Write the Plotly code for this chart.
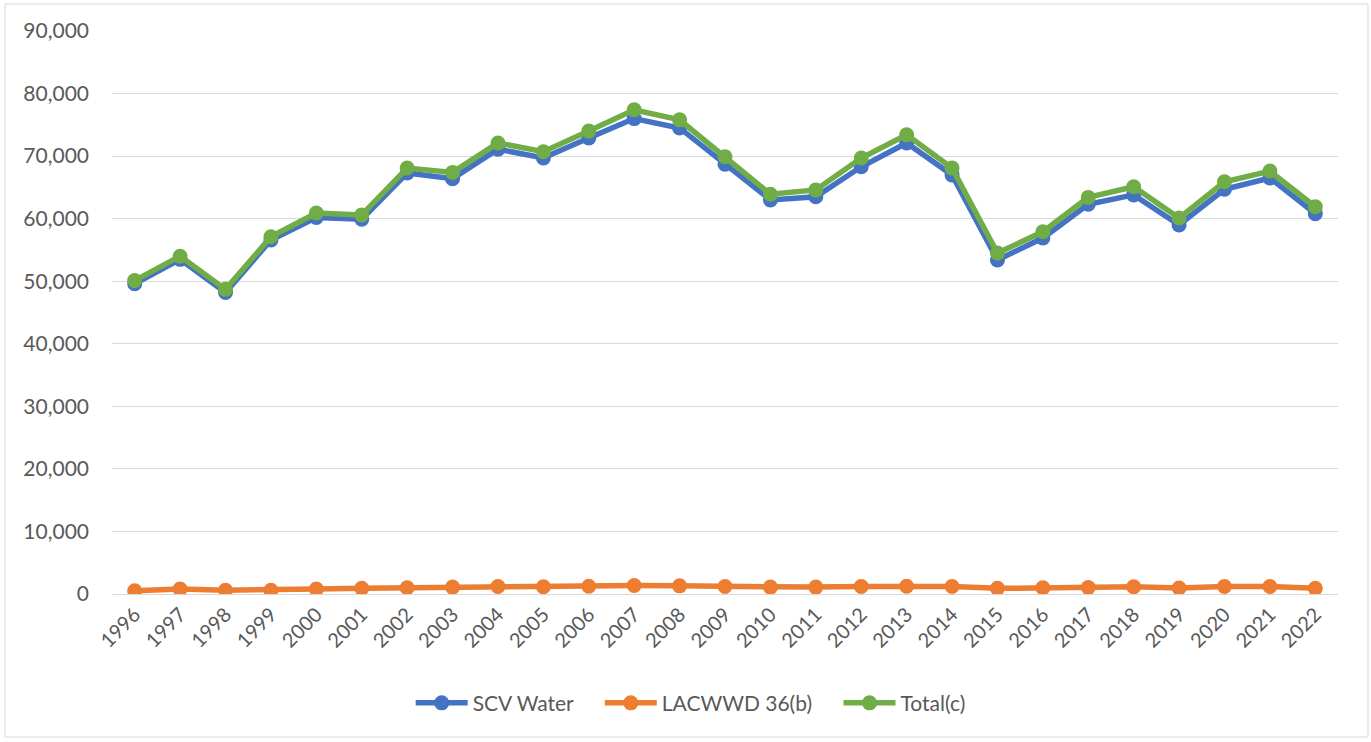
import plotly.graph_objects as go

years = [str(y) for y in range(1996, 2023)]
scv_water = [49600, 53500, 48200, 56600, 60200, 59900, 67300, 66400, 71100, 69700,
             72900, 76000, 74500, 68700, 63000, 63500, 68300, 72100, 67000, 53400,
             56900, 62300, 63800, 59000, 64700, 66500, 60800]
lacwwd = [500, 800, 600, 600, 800, 900, 1000, 1100, 1200, 1150,
          1250, 1350, 1300, 1200, 1100, 1100, 1200, 1250, 1200, 900,
          1000, 1050, 1150, 950, 1200, 1200, 900]
total = [50100, 54000, 48700, 57100, 60900, 60600, 68100, 67400, 72100, 70700,
         74000, 77400, 75800, 69900, 63900, 64600, 69700, 73400, 68100, 54500,
         57900, 63400, 65100, 60100, 65900, 67600, 61900]
y_ticks = list(range(0, 90001, 10000))

series = [("SCV Water", scv_water, "#4472C4", 4),
          ("LACWWD 36(b)", lacwwd, "#ED7D31", 4),
          ("Total(c)", total, "#70AD47", 0)]

fig = go.Figure()
for name, vals, color, pad in series:
    fig.add_trace(go.Scatter(x=years, y=vals, name=name + "\u00a0" * pad,
                             mode="lines+markers",
                             line=dict(color=color, width=5.5),
                             marker=dict(color=color, size=15)))

fig.update_layout(
    width=1371, height=742,
    margin=dict(l=112, r=33, t=31, b=148),
    paper_bgcolor="white", plot_bgcolor="white",
    font=dict(family="Lato, Open Sans, sans-serif", size=18, color="#595959"),
    showlegend=True,
    legend=dict(orientation="h", x=0.472, xanchor="center", y=-0.194, yanchor="middle",
                font=dict(size=21, color="#595959"), traceorder="normal", itemwidth=52),
    xaxis=dict(type="category", range=[-0.5, 26.5], tickangle=-45, showgrid=False,
               showline=False, ticks="", ticklabelstandoff=4,
               tickfont=dict(size=20, color="#595959")),
    yaxis=dict(range=[0, 90000], tickvals=y_ticks, tickformat=",", showgrid=True,
               gridcolor="#D9D9D9", gridwidth=1, zeroline=True, zerolinecolor="#D9D9D9",
               zerolinewidth=1, ticks="", ticklabelstandoff=22,
               tickfont=dict(size=21, color="#595959")),
    shapes=[dict(type="rect", xref="paper", yref="paper",
                 x0=-0.0873, x1=1.0245, y0=-0.254, y1=1.048,
                 line=dict(color="#D9D9D9", width=1), fillcolor="rgba(0,0,0,0)",
                 layer="below")],
)

fig.write_html("out.html", config={"displayModeBar": False},
               post_script="document.body.style.margin='0';")
